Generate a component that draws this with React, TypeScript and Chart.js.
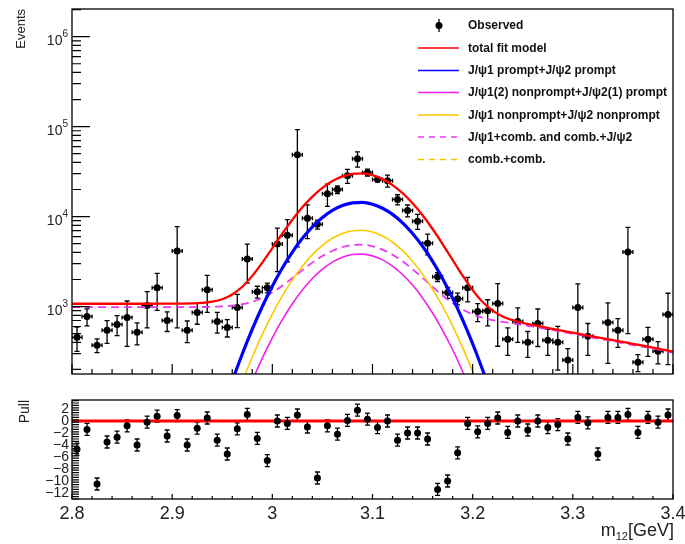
import { useEffect, useRef } from "react";
import { Chart, registerables } from "chart.js";

Chart.register(...registerables);

const FONT = '"Liberation Sans", Arial, Helvetica, sans-serif';

// ---------------- data: observed histogram ----------------
const binCenters = [
  2.805, 2.815, 2.825, 2.835, 2.845, 2.855, 2.865, 2.875, 2.885, 2.895,
  2.905, 2.915, 2.925, 2.935, 2.945, 2.955, 2.965, 2.975, 2.985, 2.995,
  3.005, 3.015, 3.025, 3.035, 3.045, 3.055, 3.065, 3.075, 3.085, 3.095,
  3.105, 3.115, 3.125, 3.135, 3.145, 3.155, 3.165, 3.175, 3.185, 3.195,
  3.205, 3.215, 3.225, 3.235, 3.245, 3.255, 3.265, 3.275, 3.285, 3.295,
  3.305, 3.315, 3.325, 3.335, 3.345, 3.355, 3.365, 3.375, 3.385, 3.395,
];
const observedEvents = [
  455, 776, 372, 544, 633, 757, 517, 1025, 1620, 700,
  4150, 544, 860, 1540, 684, 587, 975, 3380, 1460, 1620,
  4950, 6200, 48600, 9600, 8200, 18000, 20000, 28500, 44000, 30900,
  25800, 25100, 15500, 11700, 8900, 5070, 2140, 1430, 1225, 1620,
  880, 900, 1080, 433, 684, 400, 650, 422, 400, 254,
  975, 467, 105, 666, 544, 4050, 241, 433, 319, 816,
];
const observedErrors = [
  138, 166, 65, 155, 158, 396, 142, 444, 715, 172,
  3570, 147, 224, 680, 178, 128, 392, 1555, 222, 200,
  2500, 3050, 44000, 3900, 925, 5000, 2000, 5050, 8450, 2750,
  1500, 3850, 2000, 1750, 1680, 1320, 240, 198, 182, 490,
  200, 290, 718, 146, 285, 128, 290, 135, 203, 86,
  815, 181, 55, 432, 192, 3550, 52, 153, 88, 590,
];
const pullValues = [
  -4.7, -1.4, -10.5, -3.5, -2.7, -0.8, -4.0, -0.2, 0.8, -2.5,
  0.9, -4.0, -1.2, 0.5, -3.2, -5.5, -1.3, 1.1, -2.9, -6.6,
  0.0, -0.4, 1.0, -1.0, -9.5, -0.8, -2.2, 0.1, 1.8, 0.3,
  -1.1, 0.0, -3.2, -2.0, -2.0, -3.0, -11.4, -10.0, -5.3, -0.4,
  -1.8, -0.4, 0.5, -1.9, 0.0, -1.5, 0.0, -1.1, -0.6, -3.0,
  0.6, -0.3, -5.5, 0.6, 0.6, 1.1, -1.9, 0.6, -0.2, 1.0,
];
const PULL_ERROR = 1;
const BIN_HALF_WIDTH = 0.005;

// ---------------- data: fit model curves ----------------
const curveMass = [
  2.8, 2.81, 2.82, 2.83, 2.84, 2.85, 2.86, 2.87, 2.88, 2.89,
  2.9, 2.91, 2.92, 2.93, 2.94, 2.95, 2.96, 2.97, 2.98, 2.99,
  3.0, 3.01, 3.02, 3.03, 3.04, 3.05, 3.06, 3.07, 3.08, 3.09,
  3.1, 3.11, 3.12, 3.13, 3.14, 3.15, 3.16, 3.17, 3.18, 3.19,
  3.2, 3.21, 3.22, 3.23, 3.24, 3.25, 3.26, 3.27, 3.28, 3.29,
  3.3, 3.31, 3.32, 3.33, 3.34, 3.35, 3.36, 3.37, 3.38, 3.39, 3.4,
];
const totalFit = [
  1075, 1075, 1075, 1075, 1075, 1075, 1075, 1075, 1075, 1076,
  1076, 1078, 1084, 1098, 1132, 1207, 1363, 1660, 2193, 3079,
  4464, 6484, 9230, 12677, 16667, 20865, 24805, 27957, 29841, 30156,
  28841, 26113, 22394, 18206, 14052, 10338, 7279, 4950, 3301, 2204,
  1525, 1123, 900, 776, 706, 659, 624, 593, 565, 538,
  512, 488, 465, 444, 423, 404, 385, 367, 350, 333, 316,
];
const promptPrompt = [
  null, null, null, null, null, null, null, null, null, null,
  null, null, null, null, 32, 70, 149, 297, 562, 1001,
  1685, 2681, 4035, 5734, 7700, 9769, 11712, 13268, 14201, 14364,
  13726, 12394, 10575, 8526, 6494, 4676, 3180, 2043, 1241, 711,
  386, 197, 96, 44, null, null, null, null, null, null,
  null, null, null, null, null, null, null, null, null, null, null,
];
const nonpromptPrompt = [
  null, null, null, null, null, null, null, null, null, null,
  null, null, null, null, null, null, null, 79, 150, 267,
  449, 715, 1076, 1529, 2053, 2605, 3123, 3538, 3787, 3830,
  3660, 3305, 2820, 2274, 1732, 1247, 848, 545, 331, 190,
  103, 53, null, null, null, null, null, null, null, null,
  null, null, null, null, null, null, null, null, null, null, null,
];
const nonpromptNonprompt = [
  null, null, null, null, null, null, null, null, null, null,
  null, null, null, null, null, null, 73, 146, 275, 491,
  826, 1315, 1978, 2811, 3775, 4790, 5742, 6505, 6963, 7042,
  6730, 6077, 5185, 4180, 3184, 2292, 1559, 1002, 609, 349,
  189, 97, 47, null, null, null, null, null, null, null,
  null, null, null, null, null, null, null, null, null, null, null,
];
const psiComb = [
  985, 985, 985, 985, 985, 985, 985, 985, 985, 985,
  985, 985, 986, 989, 994, 1004, 1023, 1062, 1132, 1250,
  1435, 1706, 2076, 2541, 3079, 3644, 4172, 4592, 4838, 4869,
  4678, 4292, 3771, 3185, 2604, 2087, 1658, 1328, 1089, 926,
  819, 751, 707, 675, 650, 624, 598, 573, 547, 522,
  497, 474, 452, 431, 411, 392, 374, 357, 340, 323, 307,
];
const combComb = [
  90, 90, 90, 90, 90, 90, 90, 90, 90, 90,
  90, 89, 88, 87, 86, 85, 84, 83, 82, 81,
  79, 77, 75, 73, 71, 69, 66, 63, 60, 57,
  54, 51, 48, 45, 42, 39, 36, 34, 32, 30,
  28, 26, 25, 24, 23, 22, 21, 20, 19, 18,
  17, 16, 15, 14, 13, 12, 12, 11, 11, 10, 10,
];
const zeroLineMass = [2.8, 3.4];
const zeroLineValues = [0, 0];

// ---------------- axes ----------------
const X_MIN = 2.8;
const X_MAX = 3.4;
const Y_MIN = 178;
const Y_MAX = 2.03e6;
const PULL_MIN = -13;
const PULL_MAX = 3.5;
const xMajorTicks = [2.8, 2.9, 3.0, 3.1, 3.2, 3.3, 3.4];
const xTickLabels = ["2.8", "2.9", "3", "3.1", "3.2", "3.3", "3.4"];
const yDecades = [3, 4, 5, 6];
const pullMajorTicks = [2, 0, -2, -4, -6, -8, -10, -12];
const pullTickLabels = ["2", "0", "\u22122", "\u22124", "\u22126", "\u22128", "\u221210", "\u221212"];

// ---------------- legend ----------------
const legendLabels = [
  "Observed",
  "total fit model",
  "J/\u03C81 prompt+J/\u03C82 prompt",
  "J/\u03C81(2) nonprompt+J/\u03C82(1) prompt",
  "J/\u03C81 nonprompt+J/\u03C82 nonprompt",
  "J/\u03C81+comb. and comb.+J/\u03C82",
  "comb.+comb.",
];
const COLORS = {
  total: "#ff0000",
  prompt: "#0000ff",
  npPrompt: "#f020f0",
  npNp: "#ffc800",
  psiComb: "#e838f0",
  comb: "#ffc000",
};
const legendStyles = [
  null,
  { color: COLORS.total, dash: [] as number[] },
  { color: COLORS.prompt, dash: [] as number[] },
  { color: COLORS.npPrompt, dash: [] as number[] },
  { color: COLORS.npNp, dash: [] as number[] },
  { color: COLORS.psiComb, dash: [6, 5] },
  { color: COLORS.comb, dash: [6, 5] },
];

function errorBarPlugin(values: number[], errors: number[] | number, horizontal: boolean) {
  return {
    id: "errorBars",
    beforeDatasetsDraw(chart: any) {
      const { ctx, chartArea: a, scales } = chart;
      const sx = scales.x;
      const sy = scales.y;
      ctx.save();
      ctx.beginPath();
      ctx.rect(a.left, a.top, a.right - a.left, a.bottom - a.top);
      ctx.clip();
      ctx.strokeStyle = "#000";
      ctx.lineWidth = 1.3;
      binCenters.forEach((x, i) => {
        const v = values[i];
        const e = typeof errors === "number" ? errors : errors[i];
        const px = sx.getPixelForValue(x);
        const lo = v - e;
        const pyLo = sy.type === "logarithmic" && lo <= 0 ? a.bottom + 20 : sy.getPixelForValue(lo);
        const pyHi = sy.getPixelForValue(v + e);
        const py = sy.getPixelForValue(v);
        ctx.beginPath();
        ctx.moveTo(px, pyLo);
        ctx.lineTo(px, pyHi);
        ctx.moveTo(px - 2.5, pyLo);
        ctx.lineTo(px + 2.5, pyLo);
        ctx.moveTo(px - 2.5, pyHi);
        ctx.lineTo(px + 2.5, pyHi);
        if (horizontal) {
          const l = sx.getPixelForValue(x - BIN_HALF_WIDTH);
          const r = sx.getPixelForValue(x + BIN_HALF_WIDTH);
          ctx.moveTo(l, py);
          ctx.lineTo(r, py);
          ctx.moveTo(l, py - 2);
          ctx.lineTo(l, py + 2);
          ctx.moveTo(r, py - 2);
          ctx.lineTo(r, py + 2);
        }
        ctx.stroke();
      });
      ctx.restore();
    },
  };
}

function xTickValues(): number[] {
  const out: number[] = [];
  for (let k = 0; k <= 30; k++) out.push(X_MIN + k * 0.02);
  return out;
}

const topAxesPlugin = {
  id: "topAxes",
  afterDraw(chart: any) {
    const { ctx, chartArea: a, scales } = chart;
    const sx = scales.x;
    const sy = scales.y;
    ctx.save();
    // frame
    ctx.strokeStyle = "#000";
    ctx.lineWidth = 1.3;
    ctx.strokeRect(a.left, a.top, a.right - a.left, a.bottom - a.top);
    // y ticks (log)
    ctx.lineWidth = 1.2;
    ctx.beginPath();
    for (let d = 2; d <= 6; d++) {
      for (let k = 1; k <= 9; k++) {
        const v = k * Math.pow(10, d);
        if (v < Y_MIN || v > Y_MAX) continue;
        const y = sy.getPixelForValue(v);
        const len = k === 1 ? 18 : 9;
        ctx.moveTo(a.left, y);
        ctx.lineTo(a.left + len, y);
      }
    }
    // x ticks
    xTickValues().forEach((v, k) => {
      const x = sx.getPixelForValue(v);
      const len = k % 5 === 0 ? 10 : 5;
      ctx.moveTo(x, a.bottom);
      ctx.lineTo(x, a.bottom - len);
    });
    ctx.stroke();
    // y labels
    ctx.fillStyle = "#222";
    ctx.textAlign = "right";
    ctx.textBaseline = "alphabetic";
    yDecades.forEach((e) => {
      const y = sy.getPixelForValue(Math.pow(10, e));
      ctx.font = `10px ${FONT}`;
      const ew = ctx.measureText(String(e)).width;
      ctx.fillText(String(e), 68, y);
      ctx.font = `14px ${FONT}`;
      ctx.fillText("10", 68 - ew, y + 8);
    });
    // y title
    ctx.save();
    ctx.translate(25, 9);
    ctx.rotate(-Math.PI / 2);
    ctx.font = `13px ${FONT}`;
    ctx.textAlign = "right";
    ctx.fillText("Events", 0, 0);
    ctx.restore();
    // legend
    const rowY = [25.5, 48, 70.5, 92.5, 115, 137, 159.5];
    ctx.font = `bold 12px ${FONT}`;
    ctx.textAlign = "left";
    ctx.textBaseline = "middle";
    legendLabels.forEach((label, i) => {
      const y = rowY[i];
      const st = legendStyles[i];
      if (!st) {
        ctx.strokeStyle = "#000";
        ctx.lineWidth = 1.3;
        ctx.beginPath();
        ctx.moveTo(439, y - 6.5);
        ctx.lineTo(439, y + 6.5);
        ctx.stroke();
        ctx.fillStyle = "#000";
        ctx.beginPath();
        ctx.arc(439, y, 3.5, 0, Math.PI * 2);
        ctx.fill();
      } else {
        ctx.strokeStyle = st.color;
        ctx.lineWidth = 1.5;
        ctx.setLineDash(st.dash);
        ctx.beginPath();
        ctx.moveTo(418, y);
        ctx.lineTo(459, y);
        ctx.stroke();
        ctx.setLineDash([]);
      }
      ctx.fillStyle = "#111";
      ctx.fillText(label, 468, y + 0.5);
    });
    ctx.restore();
  },
};

const pullAxesPlugin = {
  id: "pullAxes",
  afterDraw(chart: any) {
    const { ctx, chartArea: a, scales } = chart;
    const sx = scales.x;
    const sy = scales.y;
    ctx.save();
    ctx.strokeStyle = "#000";
    ctx.lineWidth = 1.3;
    ctx.strokeRect(a.left, a.top, a.right - a.left, a.bottom - a.top);
    ctx.lineWidth = 1.2;
    ctx.beginPath();
    for (let k = 0; k <= 41; k++) {
      const v = -13 + k * 0.4;
      if (v > PULL_MAX) break;
      const y = sy.getPixelForValue(v);
      const major = Math.abs(Math.round(v) - v) < 1e-6 && Math.round(v) % 2 === 0;
      ctx.moveTo(a.left, y);
      ctx.lineTo(a.left + (major ? 14 : 7), y);
    }
    xTickValues().forEach((v, k) => {
      const x = sx.getPixelForValue(v);
      const len = k % 5 === 0 ? 5 : 3;
      ctx.moveTo(x, a.bottom);
      ctx.lineTo(x, a.bottom - len);
    });
    ctx.stroke();
    ctx.fillStyle = "#222";
    ctx.font = `14px ${FONT}`;
    ctx.textAlign = "right";
    ctx.textBaseline = "middle";
    pullMajorTicks.forEach((v, i) => {
      ctx.fillText(pullTickLabels[i], 69, sy.getPixelForValue(v) + 0.5);
    });
    ctx.font = `18px ${FONT}`;
    ctx.textAlign = "center";
    ctx.textBaseline = "alphabetic";
    xMajorTicks.forEach((v, i) => {
      ctx.fillText(xTickLabels[i], sx.getPixelForValue(v), 129);
    });
    // x title m12[GeV]
    ctx.textAlign = "left";
    ctx.font = `18px ${FONT}`;
    const wM = ctx.measureText("m").width;
    ctx.font = `11px ${FONT}`;
    const w12 = ctx.measureText("12").width;
    ctx.font = `18px ${FONT}`;
    const wG = ctx.measureText("[GeV]").width;
    const x0 = a.right - (wM + w12 + wG) + 1;
    ctx.fillText("m", x0, 146);
    ctx.font = `11px ${FONT}`;
    ctx.fillText("12", x0 + wM, 150);
    ctx.font = `18px ${FONT}`;
    ctx.fillText("[GeV]", x0 + wM + w12, 146);
    // y title
    ctx.save();
    ctx.translate(29, 10);
    ctx.rotate(-Math.PI / 2);
    ctx.font = `14px ${FONT}`;
    ctx.textAlign = "right";
    ctx.fillText("Pull", 0, 0);
    ctx.restore();
    ctx.restore();
  },
};

function curveDataset(values: (number | null)[], color: string, width: number, dash: number[] = []) {
  return {
    type: "line" as const,
    data: curveMass.map((x, i) => ({ x, y: values[i] })),
    borderColor: color,
    borderWidth: width,
    borderDash: dash,
    pointRadius: 0,
    fill: false,
    cubicInterpolationMode: "monotone" as const,
    spanGaps: false,
    order: 1,
  };
}

export default function App() {
  const topRef = useRef<HTMLCanvasElement | null>(null);
  const pullRef = useRef<HTMLCanvasElement | null>(null);

  useEffect(() => {
    if (!topRef.current || !pullRef.current) return;
    const top = new Chart(topRef.current, {
      type: "line",
      data: {
        datasets: [
          curveDataset(totalFit, COLORS.total, 2.3),
          curveDataset(promptPrompt, COLORS.prompt, 3.2),
          curveDataset(nonpromptNonprompt, COLORS.npNp, 1.6),
          curveDataset(nonpromptPrompt, COLORS.npPrompt, 1.6),
          curveDataset(psiComb, COLORS.psiComb, 1.8, [8, 5]),
          curveDataset(combComb, COLORS.comb, 1.8, [8, 5]),
          {
            type: "line" as const,
            data: binCenters.map((x, i) => ({ x, y: observedEvents[i] })),
            showLine: false,
            pointRadius: 3.5,
            pointBackgroundColor: "#000",
            pointBorderWidth: 0,
            order: 5,
          },
        ] as any,
      },
      options: {
        animation: false,
        responsive: false,
        maintainAspectRatio: false,
        events: [],
        layout: { padding: { left: 72, right: 12, top: 9, bottom: 16 } },
        plugins: { legend: { display: false }, tooltip: { enabled: false } },
        scales: {
          x: { type: "linear", min: X_MIN, max: X_MAX, display: false },
          y: { type: "logarithmic", min: Y_MIN, max: Y_MAX, display: false },
        },
      },
      plugins: [errorBarPlugin(observedEvents, observedErrors, true), topAxesPlugin],
    });
    const pull = new Chart(pullRef.current, {
      type: "line",
      data: {
        datasets: [
          {
            type: "line" as const,
            data: binCenters.map((x, i) => ({ x, y: pullValues[i] })),
            showLine: false,
            pointRadius: 3.5,
            pointBackgroundColor: "#000",
            pointBorderWidth: 0,
            order: 0,
          },
          {
            type: "line" as const,
            data: zeroLineMass.map((x, i) => ({ x, y: zeroLineValues[i] })),
            borderColor: "#ff0000",
            borderWidth: 3,
            pointRadius: 0,
            order: 2,
          },
        ] as any,
      },
      options: {
        animation: false,
        responsive: false,
        maintainAspectRatio: false,
        events: [],
        layout: { padding: { left: 72, right: 12, top: 10, bottom: 45 } },
        plugins: { legend: { display: false }, tooltip: { enabled: false } },
        scales: {
          x: { type: "linear", min: X_MIN, max: X_MAX, display: false },
          y: { type: "linear", min: PULL_MIN, max: PULL_MAX, display: false },
        },
      },
      plugins: [errorBarPlugin(pullValues, PULL_ERROR, false), pullAxesPlugin],
    });
    return () => {
      top.destroy();
      pull.destroy();
    };
  }, []);

  return (
    <div style={{ position: "absolute", left: 0, top: 0, width: 685, height: 544, background: "#fff" }}>
      <canvas ref={topRef} width={685} height={390} style={{ position: "absolute", left: 0, top: 0, width: 685, height: 390 }} />
      <canvas ref={pullRef} width={685} height={154} style={{ position: "absolute", left: 0, top: 390, width: 685, height: 154 }} />
    </div>
  );
}
